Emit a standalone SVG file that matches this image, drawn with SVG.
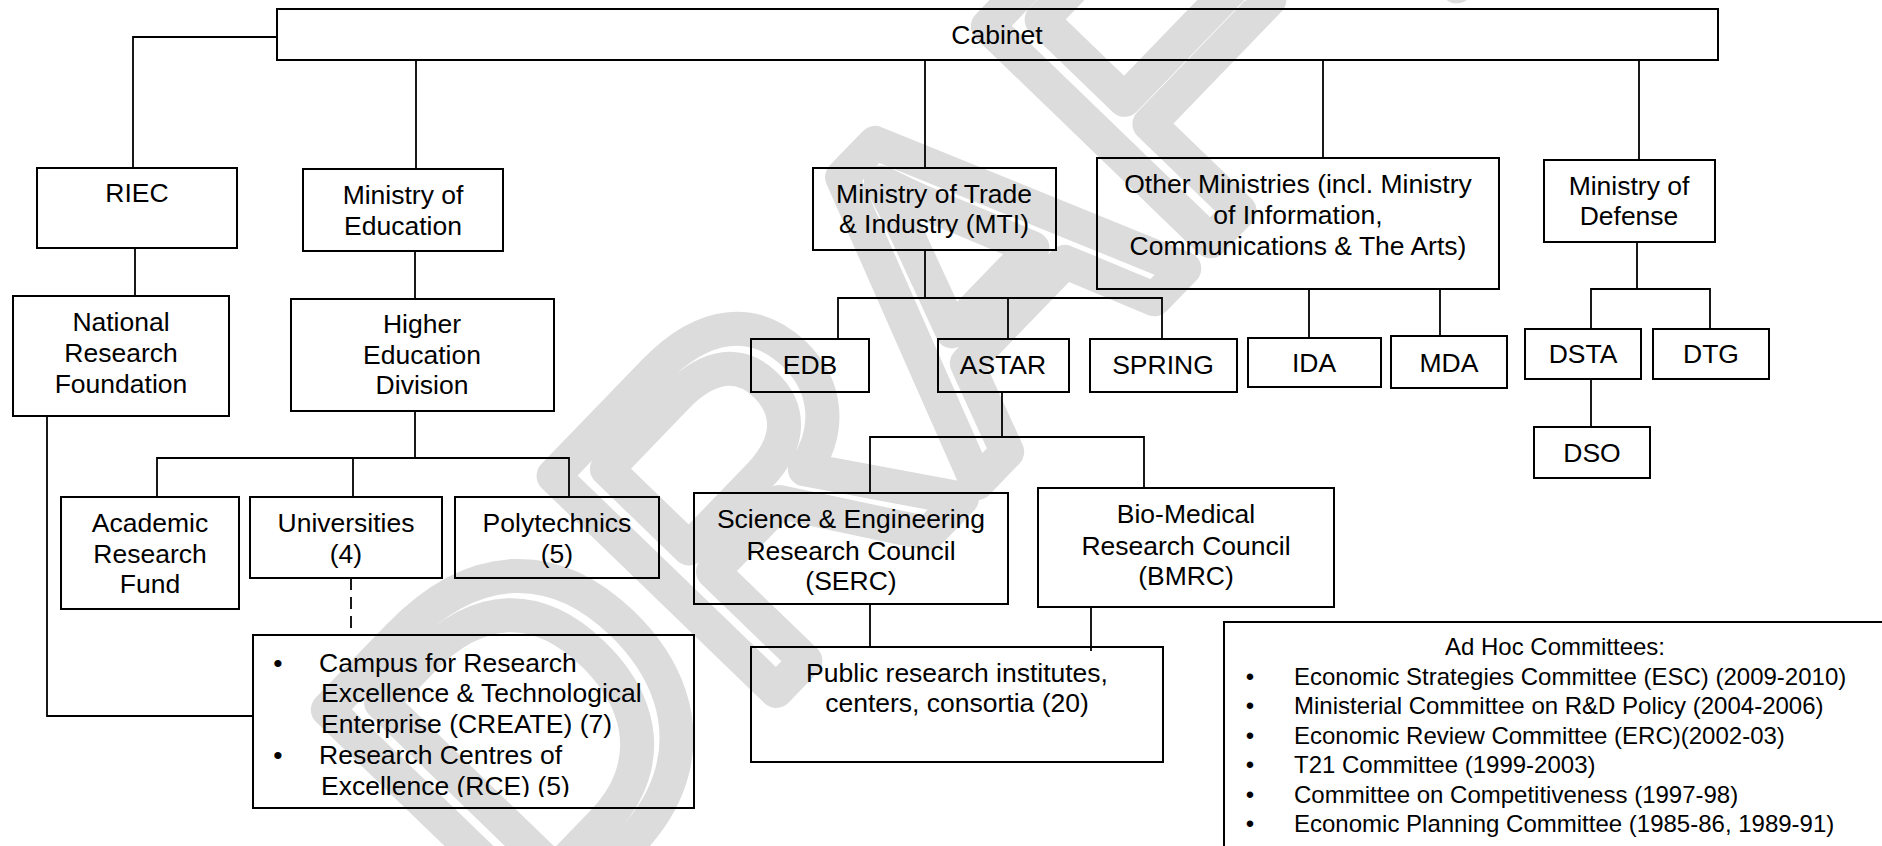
<svg xmlns="http://www.w3.org/2000/svg" width="1882" height="846" viewBox="0 0 1882 846">
<defs>
<style>
.box{fill:none;stroke:#000;stroke-width:2}
.con{fill:none;stroke:#000;stroke-width:1.8}
.t{font-family:"Liberation Sans",Arial,sans-serif;font-size:26.5px;fill:#000;text-anchor:middle}
.tl{font-family:"Liberation Sans",Arial,sans-serif;font-size:26.5px;fill:#000}
.a{font-family:"Liberation Sans",Arial,sans-serif;font-size:24px;fill:#000}
.wm{font-family:"Liberation Sans",Arial,sans-serif;font-size:450px;fill:none;stroke:#dcdcdc;stroke-width:34;stroke-linejoin:round;text-anchor:middle}
</style>
<clipPath id="clipCreate"><rect x="253" y="635" width="441" height="162"/></clipPath>
<clipPath id="clipAdhoc"><rect x="1224" y="622" width="660" height="216"/></clipPath>
</defs>
<rect width="1882" height="846" fill="#fff"/>
<g id="watermark"><text class="wm" x="0" y="161" transform="translate(930,300) rotate(-46)">DRAFT</text></g>
<g id="connectors">
<polyline class="con" points="277,37 133,37 133,168"/>
<line class="con" x1="416" y1="60" x2="416" y2="169"/>
<line class="con" x1="135" y1="248" x2="135" y2="296"/>
<line class="con" x1="415" y1="251" x2="415" y2="299"/>
<polyline class="con" points="47,416 47,716 253,716"/>
<line class="con" x1="415" y1="411" x2="415" y2="458"/>
<polyline class="con" points="157,497 157,458 569,458 569,497"/>
<line class="con" x1="353" y1="458" x2="353" y2="497"/>
<line class="con" x1="351" y1="578" x2="351" y2="635" stroke-dasharray="12 7"/>
<line class="con" x1="925" y1="60" x2="925" y2="168"/>
<line class="con" x1="925" y1="250" x2="925" y2="298"/>
<polyline class="con" points="838,339 838,298 1162,298 1162,339"/>
<line class="con" x1="1008" y1="298" x2="1008" y2="339"/>
<line class="con" x1="1002" y1="392" x2="1002" y2="437"/>
<polyline class="con" points="870,493 870,437 1144,437 1144,488"/>
<line class="con" x1="870" y1="604" x2="870" y2="647"/>
<line class="con" x1="1091" y1="607" x2="1091" y2="651"/>
<line class="con" x1="1323" y1="60" x2="1323" y2="158"/>
<line class="con" x1="1309" y1="289" x2="1309" y2="338"/>
<line class="con" x1="1440" y1="289" x2="1440" y2="336"/>
<line class="con" x1="1639" y1="60" x2="1639" y2="160"/>
<line class="con" x1="1637" y1="242" x2="1637" y2="289"/>
<polyline class="con" points="1591,329 1591,289 1710,289 1710,329"/>
<line class="con" x1="1591" y1="379" x2="1591" y2="427"/>
</g>
<g id="cabinet"><rect class="box" x="277" y="9" width="1441" height="51"/><text class="t" x="997" y="44">Cabinet</text></g>
<g id="riec"><rect class="box" x="37" y="168" width="200" height="80"/><text class="t" x="137" y="202">RIEC</text></g>
<g id="nrf"><rect class="box" x="13" y="296" width="216" height="120"/><text class="t" x="121" y="331">National</text><text class="t" x="121" y="362">Research</text><text class="t" x="121" y="393">Foundation</text></g>
<g id="moe"><rect class="box" x="303" y="169" width="200" height="82"/><text class="t" x="403" y="204">Ministry of</text><text class="t" x="403" y="235">Education</text></g>
<g id="hed"><rect class="box" x="291" y="299" width="263" height="112"/><text class="t" x="422" y="333">Higher</text><text class="t" x="422" y="364">Education</text><text class="t" x="422" y="394">Division</text></g>
<g id="arf"><rect class="box" x="61" y="497" width="178" height="112"/><text class="t" x="150" y="532">Academic</text><text class="t" x="150" y="563">Research</text><text class="t" x="150" y="593">Fund</text></g>
<g id="univ"><rect class="box" x="250" y="497" width="192" height="81"/><text class="t" x="346" y="532">Universities</text><text class="t" x="346" y="563">(4)</text></g>
<g id="poly"><rect class="box" x="455" y="497" width="204" height="81"/><text class="t" x="557" y="532">Polytechnics</text><text class="t" x="557" y="563">(5)</text></g>
<g id="create"><rect class="box" x="253" y="635" width="441" height="173"/>
<g clip-path="url(#clipCreate)">
<text class="t" x="278" y="672">•</text><text class="tl" x="319" y="672">Campus for Research</text>
<text class="tl" x="321" y="702">Excellence &amp; Technological</text>
<text class="tl" x="321" y="733">Enterprise (CREATE) (7)</text>
<text class="t" x="278" y="764">•</text><text class="tl" x="319" y="764">Research Centres of</text>
<text class="tl" x="321" y="795">Excellence (RCE) (5)</text>
</g></g>
<g id="mti"><rect class="box" x="813" y="168" width="243" height="82"/><text class="t" x="934" y="203">Ministry of Trade</text><text class="t" x="934" y="233">&amp; Industry (MTI)</text></g>
<g id="edb"><rect class="box" x="751" y="339" width="118" height="53"/><text class="t" x="810" y="374">EDB</text></g>
<g id="astar"><rect class="box" x="938" y="339" width="131" height="53"/><text class="t" x="1003" y="374">ASTAR</text></g>
<g id="spring"><rect class="box" x="1090" y="339" width="147" height="53"/><text class="t" x="1163" y="374">SPRING</text></g>
<g id="other"><rect class="box" x="1097" y="158" width="402" height="131"/><text class="t" x="1298" y="193">Other Ministries (incl. Ministry</text><text class="t" x="1298" y="224">of Information,</text><text class="t" x="1298" y="255">Communications &amp; The Arts)</text></g>
<g id="ida"><rect class="box" x="1248" y="338" width="133" height="49"/><text class="t" x="1314" y="372">IDA</text></g>
<g id="mda"><rect class="box" x="1391" y="336" width="116" height="52"/><text class="t" x="1449" y="372">MDA</text></g>
<g id="mod"><rect class="box" x="1544" y="160" width="171" height="82"/><text class="t" x="1629" y="195">Ministry of</text><text class="t" x="1629" y="225">Defense</text></g>
<g id="dsta"><rect class="box" x="1525" y="329" width="116" height="50"/><text class="t" x="1583" y="363">DSTA</text></g>
<g id="dtg"><rect class="box" x="1653" y="329" width="116" height="50"/><text class="t" x="1711" y="363">DTG</text></g>
<g id="dso"><rect class="box" x="1534" y="427" width="116" height="51"/><text class="t" x="1592" y="462">DSO</text></g>
<g id="serc"><rect class="box" x="694" y="493" width="314" height="111"/><text class="t" x="851" y="528">Science &amp; Engineering</text><text class="t" x="851" y="560">Research Council</text><text class="t" x="851" y="590">(SERC)</text></g>
<g id="bmrc"><rect class="box" x="1038" y="488" width="296" height="119"/><text class="t" x="1186" y="523">Bio-Medical</text><text class="t" x="1186" y="555">Research Council</text><text class="t" x="1186" y="585">(BMRC)</text></g>
<g id="public"><rect class="box" x="751" y="647" width="412" height="115"/><text class="t" x="957" y="682">Public research institutes,</text><text class="t" x="957" y="712">centers, consortia (20)</text></g>
<g id="adhoc"><rect class="box" x="1224" y="622" width="700" height="300"/>
<g clip-path="url(#clipAdhoc)">
<text class="a" x="1555" y="655" text-anchor="middle">Ad Hoc Committees:</text>
<text class="a" x="1250" y="684.5" text-anchor="middle">•</text><text class="a" x="1294" y="684.5">Economic Strategies Committee (ESC) (2009-2010)</text>
<text class="a" x="1250" y="714" text-anchor="middle">•</text><text class="a" x="1294" y="714">Ministerial Committee on R&amp;D Policy (2004-2006)</text>
<text class="a" x="1250" y="743.5" text-anchor="middle">•</text><text class="a" x="1294" y="743.5">Economic Review Committee (ERC)(2002-03)</text>
<text class="a" x="1250" y="773" text-anchor="middle">•</text><text class="a" x="1294" y="773">T21 Committee (1999-2003)</text>
<text class="a" x="1250" y="802.5" text-anchor="middle">•</text><text class="a" x="1294" y="802.5">Committee on Competitiveness (1997-98)</text>
<text class="a" x="1250" y="832" text-anchor="middle">•</text><text class="a" x="1294" y="832">Economic Planning Committee (1985-86, 1989-91)</text>
</g></g>
</svg>
